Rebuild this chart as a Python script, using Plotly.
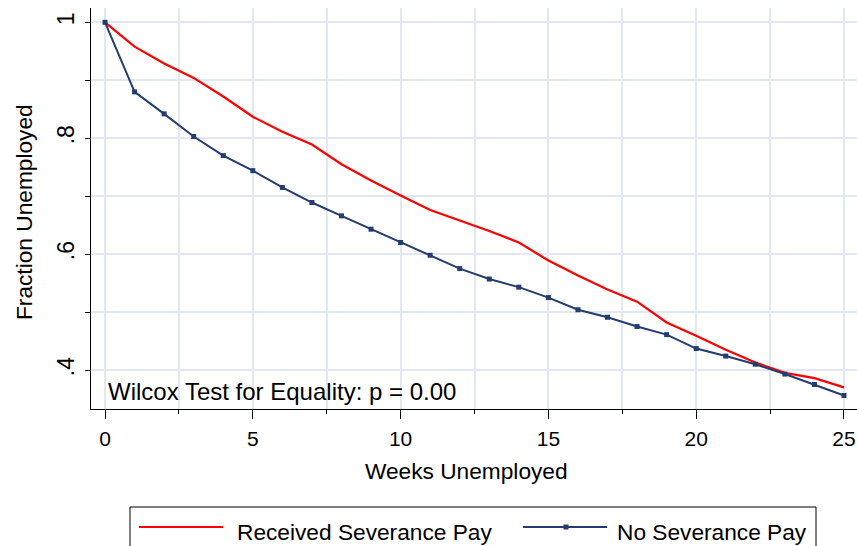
import plotly.graph_objects as go

# ---------------- data ----------------
weeks = list(range(0, 26))
severance = [1.000, 0.958, 0.929, 0.904, 0.872, 0.837, 0.811, 0.789, 0.755, 0.727,
             0.701, 0.676, 0.658, 0.640, 0.620, 0.589, 0.563, 0.539, 0.518, 0.482,
             0.459, 0.435, 0.413, 0.395, 0.386, 0.370]
no_severance = [1.000, 0.880, 0.842, 0.803, 0.770, 0.744, 0.715, 0.689, 0.666, 0.643,
                0.620, 0.598, 0.575, 0.557, 0.543, 0.525, 0.504, 0.491, 0.475, 0.461,
                0.437, 0.424, 0.410, 0.393, 0.375, 0.356]
series_names = ["Received Severance Pay", "No Severance Pay"]
y_tickvals = [0.4, 0.6, 0.8, 1.0]
y_ticktext = [".4", ".6", ".8", "1"]
x_tickvals = [0, 5, 10, 15, 20, 25]
x_ticktext = ["0", "5", "10", "15", "20", "25"]
annotation_text = "Wilcox Test for Equality: p = 0.00"
x_title = "Weeks Unemployed"
y_title = "Fraction Unemployed"

# ---------------- layout geometry ----------------
W, H = 857, 546
L, R, T, B = 91, 0, 8, 546 - 409
PW, PH = W - L - R, H - T - B

def px(v):
    """page x pixel -> paper coordinate"""
    return (v - L) / PW

def py(v):
    """page y pixel -> paper coordinate"""
    return (H - B - v) / PH

RED = "#ff0000"
NAVY = "#243c6e"
GRID = "#e2e7f1"
FONT = "Liberation Sans, Arial, sans-serif"

fig = go.Figure()
fig.add_trace(go.Scatter(x=weeks, y=severance, mode="lines", name=series_names[0],
                         line=dict(color=RED, width=2.2), showlegend=False))
fig.add_trace(go.Scatter(x=weeks, y=no_severance, mode="lines+markers", name=series_names[1],
                         line=dict(color=NAVY, width=2),
                         marker=dict(symbol="square", size=5, color=NAVY),
                         showlegend=False))

fig.update_layout(
    width=W, height=H,
    margin=dict(l=L, r=R, t=T, b=B, pad=0),
    paper_bgcolor="white", plot_bgcolor="white",
    font=dict(family=FONT, color="black", size=22),
    showlegend=False,
)

fig.update_xaxes(
    range=[-0.474, 25.44],
    tickmode="array", tickvals=x_tickvals, ticktext=x_ticktext,
    ticks="outside", ticklen=9, tickwidth=1, tickcolor="black",
    showline=True, linecolor="black", linewidth=1,
    showgrid=True, gridcolor=GRID, gridwidth=1.7,
    zeroline=False,
    tickfont=dict(size=21),
    ticklabelstandoff=2,
    minor=dict(tickmode="array", tickvals=[2.5, 7.5, 12.5, 17.5, 22.5],
               ticks="outside", ticklen=4, tickcolor="black", tickwidth=1,
               showgrid=True, gridcolor=GRID, gridwidth=1.7),
)
fig.update_yaxes(
    range=[0.3327, 1.0247],
    tickmode="array", tickvals=y_tickvals, ticktext=y_ticktext,
    tickangle=-90,
    ticks="outside", ticklen=5, tickwidth=1, tickcolor="black",
    showline=True, linecolor="black", linewidth=1,
    showgrid=True, gridcolor=GRID, gridwidth=1.7,
    zeroline=False,
    tickfont=dict(size=23),
    ticklabelstandoff=2,
    minor=dict(tickmode="array", tickvals=[0.5, 0.7, 0.9],
               ticks="outside", ticklen=5, tickcolor="black", tickwidth=1,
               showgrid=True, gridcolor=GRID, gridwidth=1.7),
)

annotations = [
    dict(text=annotation_text, x=px(106), y=py(391), xref="paper", yref="paper",
         xanchor="left", yanchor="middle", showarrow=False, font=dict(size=24)),
    dict(text=x_title, x=px(466), y=py(471), xref="paper", yref="paper",
         xanchor="center", yanchor="middle", showarrow=False, font=dict(size=22.7)),
    dict(text=y_title, x=px(24), y=py(212), xref="paper", yref="paper",
         xanchor="center", yanchor="middle", textangle=-90, showarrow=False,
         font=dict(size=22.7)),
    dict(text=series_names[0], x=px(235), y=py(532), xref="paper", yref="paper",
         xanchor="left", yanchor="middle", showarrow=False, font=dict(size=22.7)),
    dict(text=series_names[1], x=px(615), y=py(532), xref="paper", yref="paper",
         xanchor="left", yanchor="middle", showarrow=False, font=dict(size=22.7)),
]
fig.update_layout(annotations=annotations)

shapes = [
    # legend frame
    dict(type="rect", xref="paper", yref="paper", x0=px(130), x1=px(816),
         y0=py(507), y1=py(570), line=dict(color="black", width=1), fillcolor="white",
         layer="below"),
    # legend samples
    dict(type="line", xref="paper", yref="paper", x0=px(139), x1=px(223),
         y0=py(527), y1=py(527), line=dict(color=RED, width=2.2)),
    dict(type="line", xref="paper", yref="paper", x0=px(523), x1=px(607),
         y0=py(527), y1=py(527), line=dict(color=NAVY, width=2)),
    dict(type="rect", xref="paper", yref="paper", x0=px(563.5), x1=px(568.5),
         y0=py(524.5), y1=py(529.5), line=dict(width=0), fillcolor=NAVY),
]
fig.update_layout(shapes=shapes)

# remove the default 8px page margin so the figure fills the window exactly
fig.write_html(
    "out.html",
    config={"displayModeBar": False},
    post_script="document.body.style.margin='0';document.body.style.overflow='hidden';",
)
